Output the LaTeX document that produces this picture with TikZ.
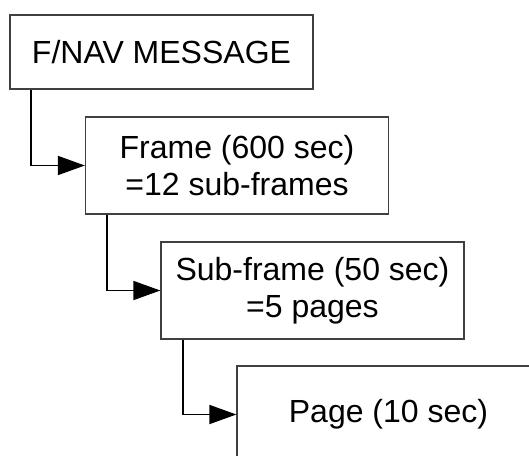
\documentclass[tikz,border=0pt]{standalone}
\usepackage{fontspec}
\setmainfont{Liberation Sans}
\usetikzlibrary{arrows.meta}

\begin{document}
\begin{tikzpicture}[x=1pt, y=-1pt, inner sep=0pt]
		\tikzstyle{every node}=[align=center, font=\fontsize{32}{37}\selectfont]
		\tikzstyle{msgbox}=[draw=black!75, line width=1.3pt, minimum width=303pt, minimum height=97pt]
		\tikzstyle{link}=[line width=1.8pt, -{Triangle[length=27pt, width=19pt]}]
			\useasboundingbox (0, 0) rectangle (529, 455);
			\clip (0, 0) rectangle (529, 455);

			\node[msgbox, minimum height=74pt] (message) at (161.5, 52) {F/NAV MESSAGE};
			\node[msgbox] (frame) at (237, 165.5) {Frame (600 sec)\\=12 sub-frames};
			\node[msgbox] (subframe) at (312.5, 290.5) {Sub-frame (50 sec)\\=5 pages};
			\node[msgbox] (page) at (388.5, 414.5) {Page (10 sec)};

			\draw[link] ([xshift=22pt]message.south west) |- (frame.west);
			\draw[link] ([xshift=22pt]frame.south west) |- (subframe.west);
			\draw[link] ([xshift=23pt]subframe.south west) |- (page.west);
		\end{tikzpicture}
\end{document}
